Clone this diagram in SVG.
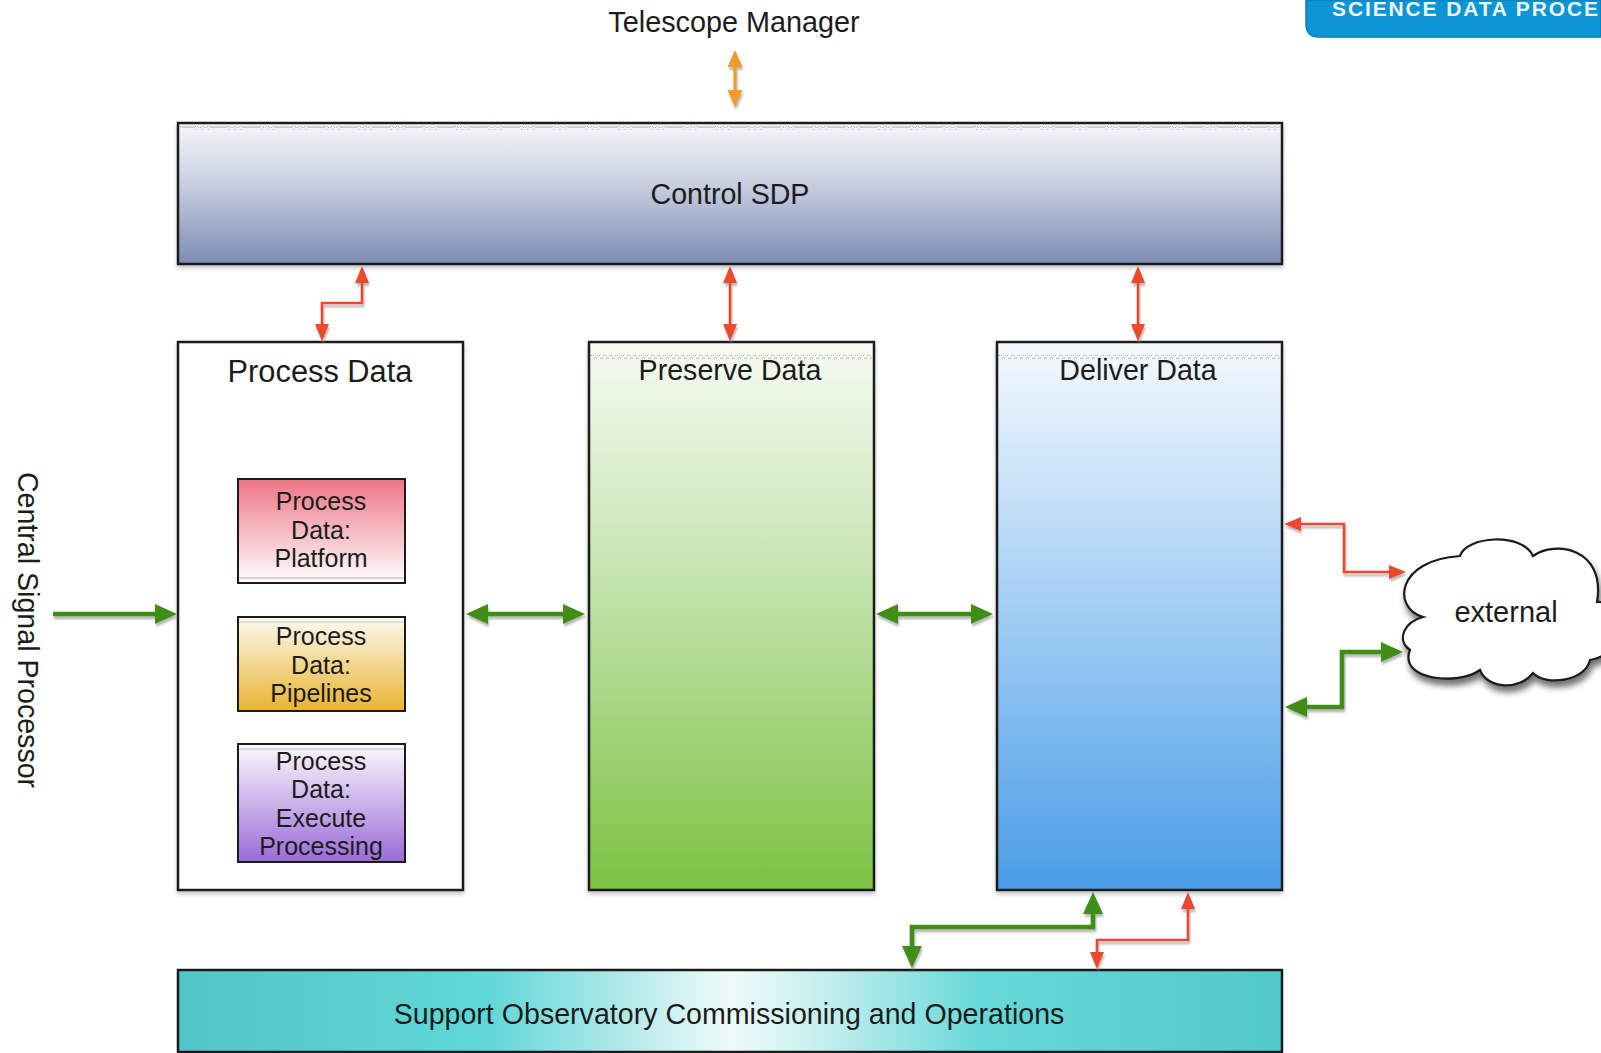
<svg xmlns="http://www.w3.org/2000/svg" width="1601" height="1053" viewBox="0 0 1601 1053">
<defs>
<style>
.lbl{font-family:"Liberation Sans",Arial,Helvetica,sans-serif;fill:#1c1c1c;text-anchor:middle}
.box{stroke:#1a1a1a;stroke-width:2.5}
.sub{stroke:#1a1a1a;stroke-width:2}
.red{fill:none;stroke:#ea4a2e;stroke-width:2.6}
.grn{fill:none;stroke:#3f8e17;stroke-width:4.6}
.org{fill:none;stroke:#f29a2c;stroke-width:3.2}
</style>
<filter id="halo" x="-5%" y="-5%" width="110%" height="115%">
<feDropShadow dx="0" dy="3" stdDeviation="2" flood-color="#000" flood-opacity="0.22"/>
</filter>
<filter id="chalo" x="-20%" y="-20%" width="140%" height="140%">
<feDropShadow dx="1" dy="3" stdDeviation="1.2" flood-color="#888" flood-opacity="0.6"/>
</filter>
<filter id="cloudsh" x="-10%" y="-10%" width="120%" height="130%">
<feDropShadow dx="2" dy="6" stdDeviation="3" flood-color="#000" flood-opacity="0.55"/>
</filter>
<linearGradient id="gCtl" x1="0" y1="0" x2="0" y2="1">
<stop offset="0" stop-color="#f6f7fa"/><stop offset="0.45" stop-color="#c6cddf"/><stop offset="1" stop-color="#7b8cb4"/>
</linearGradient>
<linearGradient id="gPre" x1="0" y1="0" x2="0" y2="1">
<stop offset="0" stop-color="#f7fbf3"/><stop offset="0.45" stop-color="#c2e3ab"/><stop offset="1" stop-color="#7cc343"/>
</linearGradient>
<linearGradient id="gDel" x1="0" y1="0" x2="0" y2="1">
<stop offset="0" stop-color="#f5f9fe"/><stop offset="0.45" stop-color="#a9d1f5"/><stop offset="1" stop-color="#4a9de8"/>
</linearGradient>
<linearGradient id="gSup" x1="0" y1="0" x2="1" y2="0">
<stop offset="0" stop-color="#52c6c7"/><stop offset="0.28" stop-color="#60d7d8"/><stop offset="0.42" stop-color="#bdeced"/><stop offset="0.5" stop-color="#eefafa"/><stop offset="0.59" stop-color="#c2eeee"/><stop offset="0.73" stop-color="#66d8d8"/><stop offset="1" stop-color="#52c9ca"/>
</linearGradient>
<linearGradient id="gPlat" x1="0" y1="0" x2="0" y2="1">
<stop offset="0" stop-color="#ee7586"/><stop offset="1" stop-color="#ffffff"/>
</linearGradient>
<linearGradient id="gPipe" x1="0" y1="0" x2="0" y2="1">
<stop offset="0" stop-color="#fdfaf2"/><stop offset="1" stop-color="#e8b430"/>
</linearGradient>
<linearGradient id="gExec" x1="0" y1="0" x2="0" y2="1">
<stop offset="0" stop-color="#fbf9fe"/><stop offset="1" stop-color="#9b6bd8"/>
</linearGradient>
<pattern id="wave" width="6" height="4" patternUnits="userSpaceOnUse">
<path d="M0,3 Q1.5,0 3,3 T6,3" fill="none" stroke="#9a9a9a" stroke-width="0.8"/>
</pattern>
<pattern id="wave2" width="32.5" height="4" patternUnits="userSpaceOnUse">
<path d="M0,3 Q1.5,0 3,3 T6,3 T9,3 T12,3 T15,3 L32.5,3" fill="none" stroke="#9a9a9a" stroke-width="0.8"/>
</pattern>
<marker id="mR" markerUnits="userSpaceOnUse" markerWidth="17" markerHeight="14" viewBox="0 0 17 14" refX="13" refY="7" orient="auto-start-reverse">
<path d="M0,0 L17,7 L0,14 Z" fill="#ea4a2e"/>
</marker>
<marker id="mG" markerUnits="userSpaceOnUse" markerWidth="22" markerHeight="20" viewBox="0 0 22 20" refX="16" refY="10" orient="auto-start-reverse">
<path d="M0,0 L22,10 L0,20 Z" fill="#3f8e17"/>
</marker>
<marker id="mO" markerUnits="userSpaceOnUse" markerWidth="17" markerHeight="15" viewBox="0 0 17 15" refX="14" refY="7.5" orient="auto-start-reverse">
<path d="M0,0 L17,7.5 L0,15 Z" fill="#f29a2c"/>
</marker>
</defs>
<rect width="1601" height="1053" fill="#ffffff"/>

<g id="sdp-tab">
<path d="M1306,0 L1601,0 L1601,37 L1319,37 Q1306,37 1306,24 Z" fill="#0b95d4" stroke="#0a7db5" stroke-width="1.5"/>
<text x="1332" y="16" font-family="Liberation Sans,Arial,sans-serif" font-weight="bold" font-size="21" fill="#eef7fc" textLength="266" lengthAdjust="spacing">SCIENCE DATA PROCE</text>
</g>

<g id="telescope-manager">
<text class="lbl" x="734" y="32" font-size="28.8">Telescope Manager</text>
</g>

<g id="central-signal-processor">
<text class="lbl" font-size="28.6" transform="translate(18,630) rotate(90)">Central Signal Processor</text>
</g>

<g id="control-sdp">
<rect class="box" x="178" y="123" width="1104" height="141" fill="url(#gCtl)" filter="url(#halo)"/>
<rect x="180" y="126" width="1100" height="4" fill="url(#wave2)"/>
<text class="lbl" x="730" y="204" font-size="28.6">Control SDP</text>
</g>

<g id="process-data">
<rect class="box" x="178" y="342" width="285" height="548" fill="#ffffff" filter="url(#halo)"/>
<text class="lbl" x="320" y="382" font-size="30.8">Process Data</text>
</g>

<g id="pd-platform">
<rect class="sub" x="238" y="479" width="167" height="104" fill="url(#gPlat)"/>
<line x1="239" y1="578" x2="404" y2="578" stroke="#b0b0b0" stroke-width="1"/>
<text class="lbl" font-size="25"><tspan x="321" y="510">Process</tspan><tspan x="321" y="539">Data:</tspan><tspan x="321" y="567">Platform</tspan></text>
</g>

<g id="pd-pipelines">
<rect class="sub" x="238" y="617" width="167" height="94" fill="url(#gPipe)"/>
<line x1="239" y1="622" x2="404" y2="622" stroke="#c8c8c8" stroke-width="1"/>
<text class="lbl" font-size="25"><tspan x="321" y="645">Process</tspan><tspan x="321" y="674">Data:</tspan><tspan x="321" y="702">Pipelines</tspan></text>
</g>

<g id="pd-execute">
<rect class="sub" x="238" y="744" width="167" height="118" fill="url(#gExec)"/>
<line x1="239" y1="749" x2="404" y2="749" stroke="#b8b8b8" stroke-width="1"/>
<text class="lbl" font-size="25"><tspan x="321" y="770">Process</tspan><tspan x="321" y="798">Data:</tspan><tspan x="321" y="827">Execute</tspan><tspan x="321" y="855">Processing</tspan></text>
</g>

<g id="preserve-data">
<rect class="box" x="589" y="342" width="285" height="548" fill="url(#gPre)" filter="url(#halo)"/>
<rect x="591" y="355" width="281" height="4" fill="url(#wave)"/>
<text class="lbl" x="730" y="380" font-size="28.6">Preserve Data</text>
</g>

<g id="deliver-data">
<rect class="box" x="997" y="342" width="285" height="548" fill="url(#gDel)" filter="url(#halo)"/>
<rect x="999" y="355" width="281" height="4" fill="url(#wave)"/>
<text class="lbl" x="1138" y="380" font-size="28.6">Deliver Data</text>
</g>

<g id="external">
<path d="M1423,617 C1392,608 1396,560 1460,556 C1466,536 1522,532 1533,556 C1555,540 1606,548 1597,602 C1625,600 1632,652 1590,660 C1585,682 1545,686 1533,673 C1520,690 1488,690 1480,670 C1458,686 1398,680 1410,650 C1396,640 1404,622 1423,617 Z" fill="#ffffff" stroke="#1a1a1a" stroke-width="2.2" filter="url(#cloudsh)"/>
<text class="lbl" x="1506" y="622" font-size="29">external</text>
</g>

<g id="support-ops">
<rect class="box" x="178" y="970" width="1104" height="82" fill="url(#gSup)"/>
<text class="lbl" x="729" y="1024" font-size="28.6">Support Observatory Commissioning and Operations</text>
</g>

<g id="connectors" filter="url(#chalo)">
<path class="org" d="M735,53 L735,104" marker-start="url(#mO)" marker-end="url(#mO)"/>
<path class="red" d="M362,270 L362,303 L322,303 L322,337" marker-start="url(#mR)" marker-end="url(#mR)"/>
<path class="red" d="M730,270 L730,337" marker-start="url(#mR)" marker-end="url(#mR)"/>
<path class="red" d="M1138,270 L1138,337" marker-start="url(#mR)" marker-end="url(#mR)"/>
<path class="grn" d="M53,614 L171,614" marker-end="url(#mG)"/>
<path class="grn" d="M472,614 L579,614" marker-start="url(#mG)" marker-end="url(#mG)"/>
<path class="grn" d="M882,614 L987,614" marker-start="url(#mG)" marker-end="url(#mG)"/>
<path class="red" d="M1288,524 L1344,524 L1344,572 L1402,572" marker-start="url(#mR)" marker-end="url(#mR)"/>
<path class="grn" d="M1291,707 L1342,707 L1342,652 L1397,652" marker-start="url(#mG)" marker-end="url(#mG)"/>
<path class="grn" d="M1093,898 L1093,927 L912,927 L912,962" marker-start="url(#mG)" marker-end="url(#mG)"/>
<path class="red" d="M1188,896 L1188,940 L1097,940 L1097,965" marker-start="url(#mR)" marker-end="url(#mR)"/>
</g>
</svg>
